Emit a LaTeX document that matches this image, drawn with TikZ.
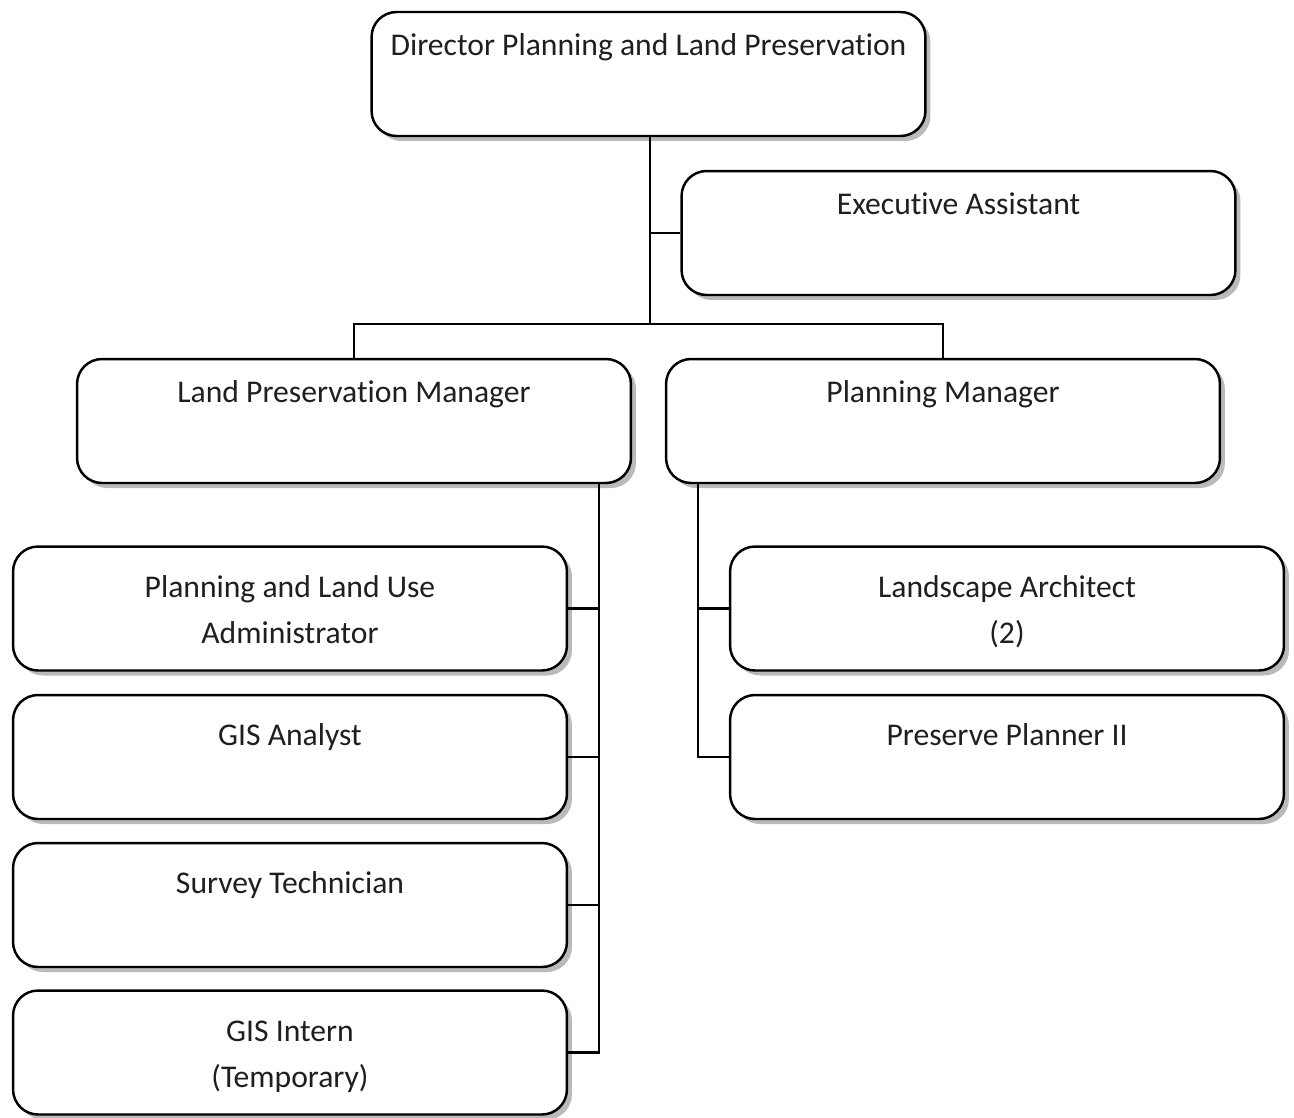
\documentclass[tikz,border=0pt]{standalone}
\usepackage{fontspec}
\setmainfont{Carlito}[Ligatures=NoCommon]
\usetikzlibrary{shadows}
\begin{document}
\begin{tikzpicture}[x=0.02cm,y=-0.02cm]
        \tikzstyle{post}=[draw=black,line width=1.4pt,rounded corners=0.5cm,fill=white,
            minimum width=11.08cm,minimum height=2.48cm,inner sep=0pt,
            drop shadow={shadow xshift=0.1cm,shadow yshift=-0.1cm,fill=black!27,opacity=1}]
        \tikzstyle{title}=[font=\fontsize{18}{26}\selectfont,text=black!88,align=center,anchor=base,inner sep=0pt]
        \tikzstyle{link}=[line width=1.3pt]
        \useasboundingbox (0,0) rectangle (1294,1117);

        \node[post] (dir) at (648.5,74) {};
        \node[post] (exec) at (958.5,233) {};
        \node[post] (lpm) at (354,421) {};
        \node[post] (pm) at (943,421) {};

        \node[post] (plu) at (290,608.5) {};
        \node[post] (gisa) at (290,757) {};
        \node[post] (surv) at (290,905) {};
        \node[post] (gisi) at (290,1052.5) {};
        \node[post] (land) at (1007,608.5) {};
        \node[post] (pres) at (1007,757) {};

        % one line: baseline, two lines: baseline of the last line
        \node[title] (dir-t) at ([yshift=-0.9cm]dir.north) {Director Planning and Land Preservation};
        \node[title] (exec-t) at ([yshift=-0.9cm]exec.north) {Executive Assistant};
        \node[title] (lpm-t) at ([yshift=-0.9cm]lpm.north) {Land Preservation Manager};
        \node[title] (pm-t) at ([yshift=-0.9cm]pm.north) {Planning Manager};
        \node[title] (plu-t) at ([yshift=-1.96cm]plu.north) {Planning and Land Use\\Administrator};
        \node[title] (gisa-t) at ([yshift=-1.04cm]gisa.north) {GIS Analyst};
        \node[title] (surv-t) at ([yshift=-1.04cm]surv.north) {Survey Technician};
        \node[title] (gisi-t) at ([yshift=-1.96cm]gisi.north) {GIS Intern\\(Temporary)};
        \node[title] (land-t) at ([yshift=-1.96cm]land.north) {Landscape Architect\\(2)};
        \node[title] (pres-t) at ([yshift=-1.04cm]pres.north) {Preserve Planner II};

        \coordinate (bus) at (650,324);
        \coordinate (lv) at ([xshift=-0.66cm]lpm.south east);
        \coordinate (pv) at ([xshift=0.66cm]pm.south west);

        \draw[link] (dir.south -| bus) -- (bus);
        \draw[link] (exec.west) -- (exec.west -| bus);
        \draw[link] (lpm.north) |- (bus) -| (pm.north);
        \draw[link] (lv) |- (gisi.east);
        \draw[link] (plu.east) -- (plu.east -| lv);
        \draw[link] (gisa.east) -- (gisa.east -| lv);
        \draw[link] (surv.east) -- (surv.east -| lv);
        \draw[link] (pv) |- (pres.west);
        \draw[link] (land.west) -- (land.west -| pv);
    \end{tikzpicture}
\end{document}
